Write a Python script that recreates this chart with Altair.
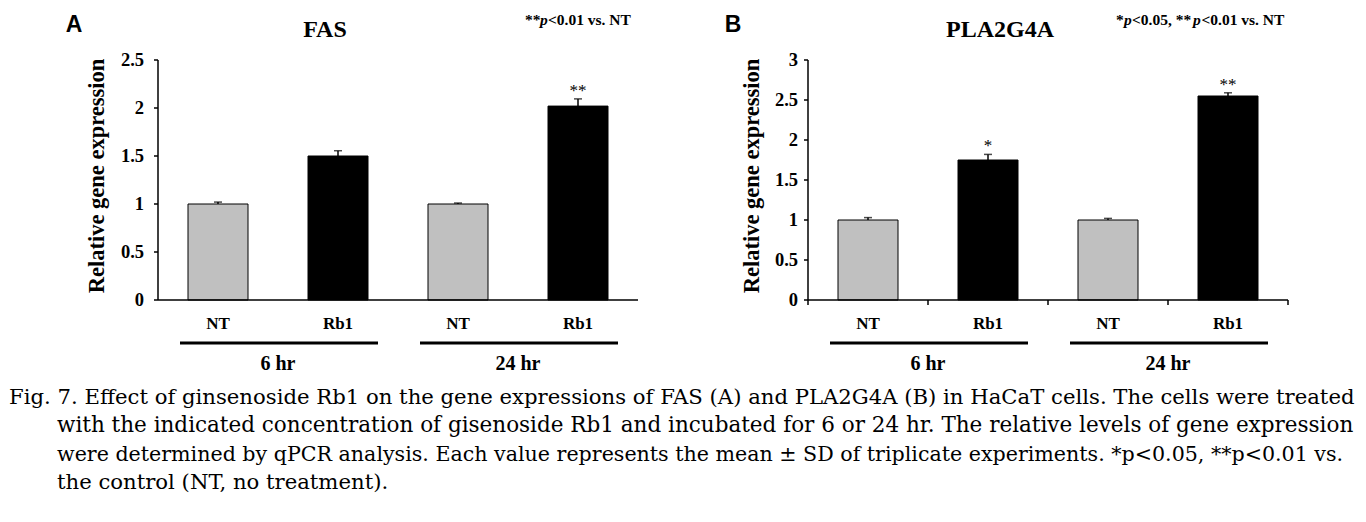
import altair as alt
import pandas as pd

# ---------------- data ----------------
categories = ["NT_6", "Rb1_6", "NT_24", "Rb1_24"]
bar_labels = ["NT", "Rb1", "NT", "Rb1"]
treatment = ["NT", "Rb1", "NT", "Rb1"]

fas_mean = [1.00, 1.50, 1.00, 2.02]
fas_sd = [0.02, 0.055, 0.01, 0.075]
fas_sig = ["", "", "", "**"]

pla_mean = [1.00, 1.75, 1.00, 2.55]
pla_sd = [0.03, 0.07, 0.02, 0.04]
pla_sig = ["", "*", "", "**"]

group_start = ["NT_6", "NT_24"]
group_end = ["Rb1_6", "Rb1_24"]
group_labels = ["6 hr", "24 hr"]

fas_ticks = [0, 0.5, 1, 1.5, 2, 2.5]
fas_tick_labels = ["0", "0.5", "1", "1.5", "2", "2.5"]
pla_ticks = [0, 0.5, 1, 1.5, 2, 2.5, 3]
pla_tick_labels = ["0", "0.5", "1", "1.5", "2", "2.5", "3"]

panel_letters = ["A", "B"]
panel_titles = ["FAS", "PLA2G4A"]
y_title = "Relative gene expression"

note_a = ["**", "p", "<0.01 vs. NT"]
note_b = ["*", "p", "<0.05, **", "p", "<0.01  vs. NT"]

caption_first = ("Fig. 7. Effect of ginsenoside Rb1 on the gene expressions of FAS (A) and "
                 "PLA2G4A (B) in HaCaT cells. The cells were treated")
caption_rest = [
    "with the indicated concentration of gisenoside Rb1 and incubated for 6 or 24 hr. "
    "The relative levels of gene expression",
    "were determined by qPCR analysis. Each value represents the mean \u00b1 SD of "
    "triplicate experiments. *p<0.05, **p<0.01 vs.",
    "the control (NT, no treatment).",
]

SERIF = "Liberation Serif"
SANS = "Liberation Sans"
CAP_FONT = "DejaVu Serif"
W, H = 1350, 506
Y_TOP, Y_BOT = 52, 292


def panel(mean, sd, sig, ymax, yticks, ytick_labels, xrange, title_x, label_gap, show_ticks):
    df = pd.DataFrame({
        "cat": categories,
        "label": bar_labels,
        "trt": treatment,
        "mean": mean,
        "upper": [m + s for m, s in zip(mean, sd)],
        "sig": sig,
    })
    gdf = pd.DataFrame({"start": group_start, "end": group_end, "glabel": group_labels})
    tdf = pd.DataFrame({"v": yticks, "lab": ytick_labels})
    xs = alt.Scale(domain=categories, range=xrange, paddingInner=0.5, paddingOuter=0.25)
    ys = alt.Scale(domain=[0, ymax], range=[Y_BOT, Y_TOP], nice=False, zero=True)
    x0, x1 = xrange

    xe = alt.X("cat:N", scale=xs, sort=categories, axis=None)
    base = alt.Chart(df)
    bars = base.mark_bar(stroke="black", strokeWidth=1).encode(
        x=xe,
        y=alt.Y("mean:Q", scale=ys, axis=None),
        color=alt.Color("trt:N", scale=alt.Scale(domain=["NT", "Rb1"],
                                                  range=["#c0c0c0", "#000000"]), legend=None),
    )
    err = base.mark_rule(color="black", strokeWidth=1.5).encode(
        x=xe, y=alt.Y("mean:Q", axis=None), y2="upper:Q")
    cap = base.mark_tick(color="black", size=8, thickness=1.5).encode(
        x=xe, y=alt.Y("upper:Q", axis=None))
    stars = base.mark_text(font=SERIF, fontSize=17, baseline="alphabetic", dy=-3,
                           color="black").encode(
        x=xe, y=alt.Y("upper:Q", axis=None), text="sig:N")
    labels = base.mark_text(font=SERIF, fontSize=17, fontWeight="bold", baseline="middle",
                            color="black").encode(
        x=xe, y=alt.value(316), text="label:N")

    # y axis drawn through the y scale
    tbase = alt.Chart(tdf)
    ydomain = alt.Chart(pd.DataFrame({"lo": [0], "hi": [ymax]})).mark_rule(
        color="black", strokeWidth=1.5).encode(
        x=alt.value(x0), y=alt.Y("lo:Q", axis=None), y2="hi:Q")
    yticks_m = tbase.mark_rule(color="black", strokeWidth=1.5).encode(
        x=alt.value(x0 - 4), x2=alt.value(x0), y=alt.Y("v:Q", axis=None))
    ylabels = tbase.mark_text(font=SERIF, fontSize=18.5, fontWeight="bold", align="right",
                              baseline="middle", color="black").encode(
        x=alt.value(x0 - label_gap), y=alt.Y("v:Q", axis=None), text="lab:N")
    ytitle = alt.Chart(pd.DataFrame({"t": [y_title]})).mark_text(
        font=SERIF, fontSize=22.5, fontWeight="bold", angle=270, align="center",
        baseline="middle", color="black").encode(
        x=alt.value(title_x), y=alt.value(168), text="t:N")

    # x axis line
    xdomain = alt.Chart(pd.DataFrame({"lo": [0]})).mark_rule(
        color="black", strokeWidth=1.5).encode(
        x=alt.value(x0), x2=alt.value(x1), y=alt.Y("lo:Q", axis=None))

    gbase = alt.Chart(gdf)
    glines = gbase.mark_rule(color="black", strokeWidth=3, xOffset=-38, x2Offset=40).encode(
        x=alt.X("start:N", scale=xs, sort=categories, axis=None), x2="end:N",
        y=alt.value(335))
    gtext = gbase.mark_text(font=SERIF, fontSize=20, fontWeight="bold", baseline="middle",
                            xOffset=60, color="black").encode(
        x=alt.X("start:N", scale=xs, sort=categories, axis=None),
        y=alt.value(356), text="glabel:N")

    layers = [bars, err, cap, stars, labels, ydomain, yticks_m, ylabels, ytitle, xdomain,
              glines, gtext]
    if show_ticks:
        step_half = (x1 - x0) / len(categories) / 2
        xt1 = base.mark_rule(color="black", strokeWidth=1.5, xOffset=-step_half).encode(
            x=xe, y=alt.value(Y_BOT), y2=alt.value(Y_BOT + 5))
        last = alt.Chart(pd.DataFrame({"cat": categories[-1:]})).mark_rule(
            color="black", strokeWidth=1.5, xOffset=step_half).encode(
            x=xe, y=alt.value(Y_BOT), y2=alt.value(Y_BOT + 5))
        layers += [xt1, last]
    return alt.layer(*layers)


panel_a = panel(fas_mean, fas_sd, fas_sig, 2.5, fas_ticks, fas_tick_labels,
                [150, 630], 89, 14, False)
panel_b = panel(pla_mean, pla_sd, pla_sig, 3, pla_ticks, pla_tick_labels,
                [800, 1280], 744, 10, True)


def text_item(txt, x, y, font, size, weight="normal", style="normal", align="left"):
    return alt.Chart(pd.DataFrame({"t": [txt]})).mark_text(
        font=font, fontSize=size, fontWeight=weight, fontStyle=style, align=align,
        baseline="alphabetic", color="black").encode(
        x=alt.value(x), y=alt.value(y), text="t:N")


annotations = [
    text_item(panel_letters[0], 66, 24, SANS, 23, "bold", align="center"),
    text_item(panel_letters[1], 725, 24, SANS, 23, "bold", align="center"),
    text_item(panel_titles[0], 317, 29, SERIF, 24, "bold", align="center"),
    text_item(panel_titles[1], 992, 29, SERIF, 24, "bold", align="center"),
]

# significance notes (italic p)
note_a_x = [517, 532, 540]
for seg, xx in zip(note_a, note_a_x):
    annotations.append(text_item(seg, xx, 17, SERIF, 15.5, "bold",
                                 "italic" if seg == "p" else "normal"))
note_b_x = [1108, 1116, 1124, 1185, 1193.5]
for seg, xx in zip(note_b, note_b_x):
    annotations.append(text_item(seg, xx, 17, SERIF, 15.5, "bold",
                                 "italic" if seg == "p" else "normal"))

# caption (font sizes nudged per line to approximate the justified block)
caption_sizes = [21.2, 21.5, 20.6, 21.2]
annotations.append(text_item(caption_first, 1, 396, CAP_FONT, caption_sizes[0]))
for i, line in enumerate(caption_rest):
    annotations.append(text_item(line, 49, 424 + i * 28.7, CAP_FONT, caption_sizes[i + 1]))

chart = alt.layer(panel_a, panel_b, *annotations).resolve_scale(
    x="independent", y="independent"
).properties(
    width=W, height=H, autosize=alt.AutoSizeParams(type="none"), padding=0
).configure_view(stroke=None)

chart.save("out.html", embed_options={"renderer": "svg", "actions": False})
